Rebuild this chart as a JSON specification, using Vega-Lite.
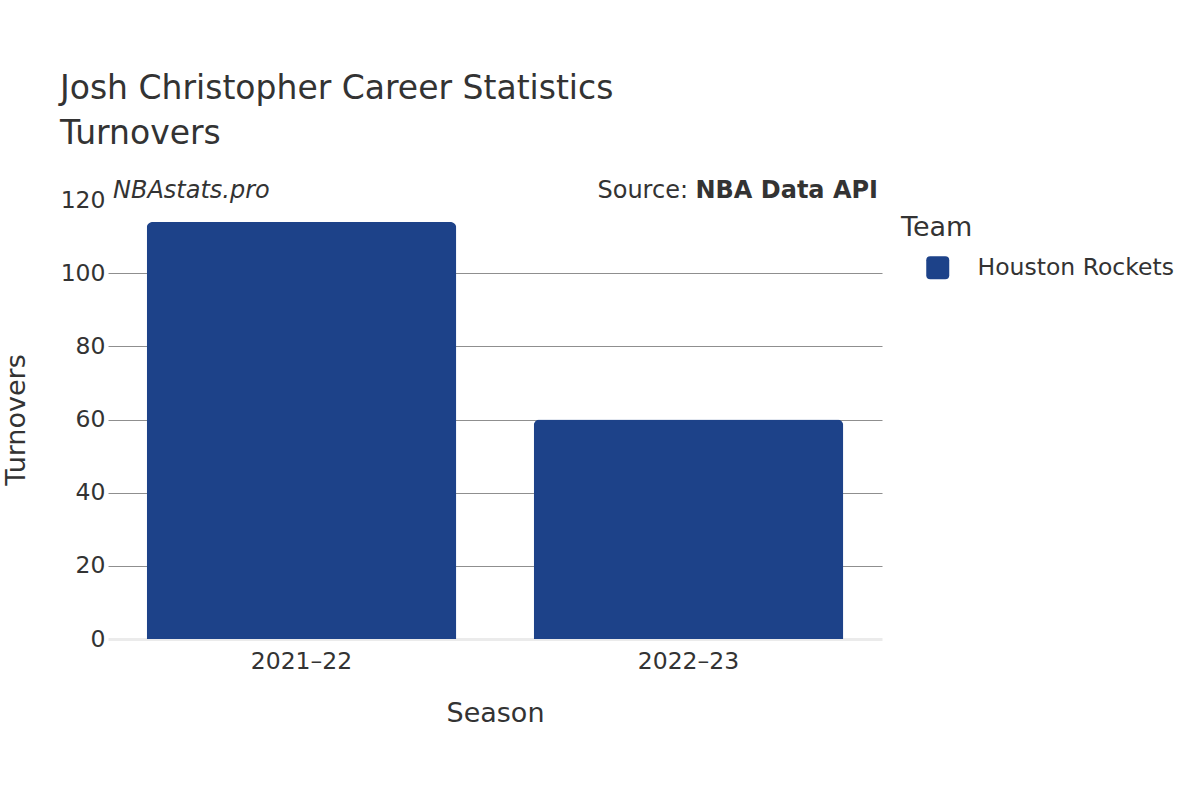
{
  "$schema": "https://vega.github.io/schema/vega-lite/v6.json",
  "autosize": {"type": "none"},
  "width": 774,
  "height": 439,
  "padding": {"left": 108, "top": 200, "right": 318, "bottom": 161},
  "background": "white",
  "config": {
    "font": "DejaVu Sans",
    "view": {"stroke": null},
    "text": {"font": "DejaVu Sans", "color": "#333333"}
  },
  "title": {
    "text": "Josh Christopher Career Statistics",
    "subtitle": "Turnovers",
    "anchor": "start",
    "frame": "group",
    "dx": -48,
    "offset": 28,
    "fontSize": 33,
    "fontWeight": "normal",
    "color": "#333333",
    "subtitleFontSize": 33,
    "subtitleColor": "#333333",
    "subtitlePadding": 12,
    "font": "DejaVu Sans",
    "subtitleFont": "DejaVu Sans"
  },
  "layer": [
    {
      "data": {
        "values": [
          {"Season": "2021–22", "Team": "Houston Rockets", "Turnovers": 114},
          {"Season": "2022–23", "Team": "Houston Rockets", "Turnovers": 60}
        ]
      },
      "mark": {"type": "bar", "cornerRadiusTopLeft": 6, "cornerRadiusTopRight": 6, "width": {"band": 0.8}},
      "encoding": {
        "x": {
          "field": "Season",
          "type": "nominal",
          "sort": null,
          "scale": {"paddingInner": 0, "paddingOuter": 0},
          "axis": {
            "title": "Season",
            "labelAngle": 0,
            "labelFontSize": 23.5,
            "labelColor": "#333333",
            "labelPadding": 10,
            "ticks": false,
            "domain": true,
            "domainColor": "#ebebeb",
            "domainWidth": 3,
            "titleFontSize": 27,
            "titleFontWeight": "normal",
            "titleColor": "#333333",
            "titlePadding": 28
          }
        },
        "y": {
          "field": "Turnovers",
          "type": "quantitative",
          "scale": {"domain": [0, 120], "nice": false},
          "axis": {
            "title": "Turnovers",
            "values": [0, 20, 40, 60, 80, 100, 120],
            "labelFontSize": 23.5,
            "labelColor": "#333333",
            "labelPadding": 3,
            "ticks": false,
            "domain": false,
            "grid": true,
            "gridColor": {"condition": {"test": "datum.value == 0 || datum.value == 120", "value": "transparent"}, "value": "#8f8f8f"},
            "gridWidth": 1,
            "titleFontSize": 27,
            "titleFontWeight": "normal",
            "titleColor": "#333333",
            "titlePadding": 30
          }
        },
        "color": {
          "field": "Team",
          "type": "nominal",
          "scale": {"range": ["#1d4289"]},
          "legend": {
            "orient": "none",
            "legendX": 793,
            "legendY": 15,
            "title": "Team",
            "titleFontSize": 27,
            "titleFontWeight": "normal",
            "titleColor": "#333333",
            "titlePadding": 14,
            "labelFontSize": 23.5,
            "labelColor": "#333333",
            "labelLimit": 400,
            "labelOffset": 28,
            "symbolOffset": 25,
            "symbolSize": 529,
            "symbolStrokeWidth": 0,
            "symbolType": "M -0.65,-1 L 0.65,-1 Q 1,-1 1,-0.65 L 1,0.65 Q 1,1 0.65,1 L -0.65,1 Q -1,1 -1,0.65 L -1,-0.65 Q -1,-1 -0.65,-1 Z"
          }
        }
      }
    },
    {
      "data": {"values": [{"label": "NBAstats.pro", "Season": "2021–22", "y": 120}]},
      "mark": {"type": "text", "align": "left", "baseline": "alphabetic", "dx": 5, "dy": -2, "fontSize": 24, "fontStyle": "italic", "color": "#333333"},
      "encoding": {
        "x": {"field": "Season", "type": "nominal", "bandPosition": 0},
        "y": {"field": "y", "type": "quantitative"},
        "text": {"field": "label"}
      }
    },
    {
      "data": {"values": [{"label": "NBA Data API", "Season": "2022–23", "y": 120}]},
      "mark": {"type": "text", "align": "right", "baseline": "alphabetic", "dx": -4, "dy": -2, "fontSize": 24, "fontWeight": "bold", "color": "#333333"},
      "encoding": {
        "x": {"field": "Season", "type": "nominal", "bandPosition": 1},
        "y": {"field": "y", "type": "quantitative"},
        "text": {"field": "label"}
      }
    },
    {
      "data": {"values": [{"label": "Source:", "Season": "2022–23", "y": 120}]},
      "mark": {"type": "text", "align": "right", "baseline": "alphabetic", "dx": -194, "dy": -2, "fontSize": 24, "color": "#333333"},
      "encoding": {
        "x": {"field": "Season", "type": "nominal", "bandPosition": 1},
        "y": {"field": "y", "type": "quantitative"},
        "text": {"field": "label"}
      }
    }
  ]
}
